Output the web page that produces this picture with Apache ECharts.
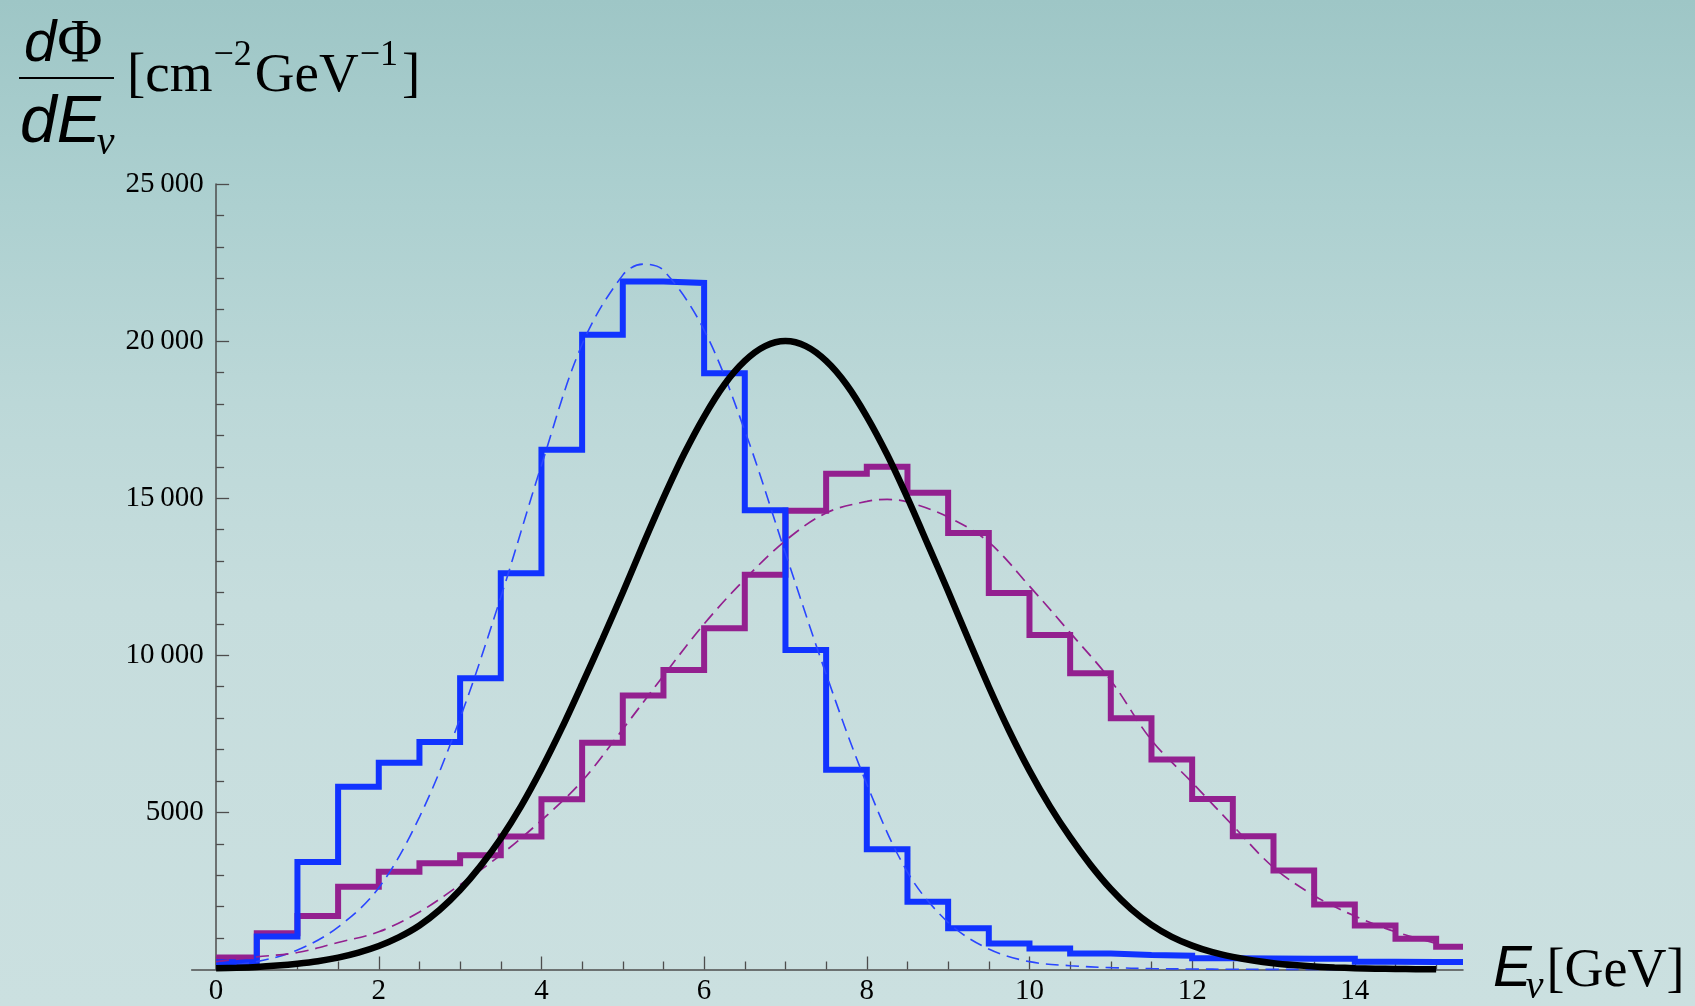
<!DOCTYPE html>
<html>
<head>
<meta charset="utf-8">
<script src="https://cdn.jsdelivr.net/npm/echarts@6/dist/echarts.min.js"></script>
<style>
html,body{margin:0;padding:0;}
body{width:1695px;height:1006px;overflow:hidden;
  background:linear-gradient(to bottom,#9ec6c6 0%,#abcfcf 18%,#bcd8d8 40%,#c6dddd 60%,#cbe0e0 100%);}
#c{width:1695px;height:1006px;}
</style>
</head>
<body>
<div id="c"></div>
<script>
// ---------------- data ----------------
const binStart = [0,0.5,1,1.5,2,2.5,3,3.5,4,4.5,5,5.5,6,6.5,7,7.5,8,8.5,9,9.5,10,10.5,11,11.5,12,12.5,13,13.5,14,14.5,15];
const binEnd = 15.33;
const blueHist = [230,1050,3420,5820,6580,7240,9270,12610,16540,20200,21900,21850,18980,14620,10170,6360,3830,2160,1310,830,670,510,460,440,360,350,345,340,245,240,235];
const magentaHist = [380,1150,1700,2630,3110,3380,3640,4230,5420,7220,8720,9530,10860,12560,14600,15780,16000,15170,13890,11980,10650,9430,8000,6680,5430,4240,3150,2070,1400,980,725];

const blackX = [0,0.25,0.5,0.75,1,1.25,1.5,1.75,2,2.25,2.5,2.75,3,3.25,3.5,3.75,4,4.25,4.5,4.75,5,5.25,5.5,5.75,6,6.25,6.5,6.75,7,7.25,7.5,7.75,8,8.25,8.5,8.75,9,9.25,9.5,9.75,10,10.25,10.5,10.75,11,11.25,11.5,11.75,12,12.25,12.5,12.75,13,13.25,13.5,13.75,14,14.25,14.5,14.75,15];
const blackCurve = [40,55,80,125,185,265,380,540,750,1030,1400,1900,2530,3290,4170,5200,6380,7680,9080,10520,12000,13530,15010,16390,17600,18620,19370,19840,20000,19840,19370,18620,17600,16390,15010,13530,12040,10500,9000,7600,6330,5200,4210,3330,2560,1920,1420,1040,760,550,400,285,200,140,95,65,42,27,17,10,6];

const blueFitX = [0,0.5,1,1.5,2,2.5,3,3.5,4,4.5,5,5.25,5.5,6,6.5,7,7.5,8,8.5,9,9.5,10,10.5,11,11.5,12,12.5,13,13.5,14,14.5,15];
const blueFit = [90,250,620,1350,2600,4850,8000,11850,16050,19900,22100,22450,22250,20350,17150,13250,9400,5900,3100,1500,650,250,120,60,30,15,8,4,2,1,0,0];

const magentaFitX = [0,0.5,1,1.5,2,2.5,3,3.5,4,4.5,5,5.5,6,6.5,7,7.5,8,8.25,8.5,9,9.5,10,10.5,11,11.5,12,12.5,13,13.5,14,14.5,15];
const magentaFit = [250,400,540,860,1200,1830,2700,3650,4750,6000,7650,9350,11000,12420,13650,14530,14900,14960,14880,14400,13600,12200,10720,9200,7300,5950,4580,3250,2350,1700,1200,830];

const xMajorTicks = [0,2,4,6,8,10,12,14];
const xTickLabels = ['0','2','4','6','8','10','12','14'];
const xMinorTicks = [0.5,1,1.5,2.5,3,3.5,4.5,5,5.5,6.5,7,7.5,8.5,9,9.5,10.5,11,11.5,12.5,13,13.5,14.5,15];
const yTickValues = [5000,10000,15000,20000,25000];
const yTickLabels = ['5000','10\u2009000','15\u2009000','20\u2009000','25\u2009000'];

// ---------------- build ----------------
function histPairs(vals){
  const d = binStart.map((x,i)=>[x, vals[i]]);
  d.push([binEnd, vals[vals.length-1]]);
  return d;
}
function pairs(xs, ys){ return xs.map((x,i)=>[x, ys[i]]); }

const AX = '#4d4d4d';
const BLUE = '#1133ff';
const MAG = '#93208f';
const SERIF = '"Liberation Serif","Times New Roman",serif';
const SANS = '"Liberation Sans",Arial,sans-serif';

const mctx = document.createElement('canvas').getContext('2d');
function tw(t,f){ mctx.font=f; return mctx.measureText(t).width; }
function midOff(f){ mctx.font=f; mctx.textBaseline='middle'; const m=mctx.measureText('H'); mctx.textBaseline='alphabetic'; return m.actualBoundingBoxDescent; }
function run(x, base, parts){
  const out=[];
  for(const p of parts){
    const xx = x + (p.dx||0);
    out.push({type:'text', silent:true, x:xx, y:base+(p.dy||0)-midOff(p.font),
      style:{text:p.t, font:p.font, fill:'#000', textAlign:'left', textVerticalAlign:'middle'}});
    x = xx + tw(p.t,p.font);
  }
  return out;
}
const fNumD = 'italic 58px '+SANS;
const fNumPhi = '62px '+SERIF;
const fDen = 'italic 66px '+SANS;
const fNu = 'italic 40px '+SERIF;
const fUnit = '55px '+SERIF;
const fSup = '36px '+SERIF;

let graphics = [];
graphics = graphics.concat(run(24, 61, [{t:'d',font:fNumD},{t:'\u03A6',font:fNumPhi,dx:1}]));
graphics.push({type:'line', silent:true, shape:{x1:19,y1:78,x2:114,y2:78}, style:{stroke:'#000',lineWidth:2}});
graphics = graphics.concat(run(20, 142, [{t:'d',font:fDen},{t:'E',font:fDen},{t:'\u03BD',font:fNu,dy:12,dx:-4}]));
graphics = graphics.concat(run(127, 91, [
  {t:'[cm',font:fUnit},{t:'\u22122',font:fSup,dy:-26,dx:1},{t:'GeV',font:fUnit,dx:3},{t:'\u22121',font:fSup,dy:-26,dx:1},{t:']',font:fUnit,dx:4}
]));
graphics = graphics.concat(run(1493, 986, [
  {t:'E',font:'italic 58px '+SANS},{t:'\u03BD',font:'italic 40px '+SERIF,dy:12,dx:-6},{t:'[GeV]',font:'54px '+SERIF,dx:3}
]));

const chart = echarts.init(document.getElementById('c'), null, {renderer:'canvas'});
chart.setOption({
  animation:false,
  backgroundColor:'transparent',
  grid:{left:191.7, right:232, top:184, bottom:36.5, containLabel:false},
  xAxis:[{
    type:'value', min:-0.3, max:binEnd, position:'bottom',
    axisLine:{show:true, onZero:false, lineStyle:{color:AX, width:1.5}},
    axisTick:{show:true, inside:true, length:13, customValues:xMajorTicks, lineStyle:{color:AX,width:1.3}},
    minorTick:{show:false},
    axisLabel:{show:true, customValues:xMajorTicks, margin:7, color:'#000', fontFamily:SERIF, fontSize:29,
      formatter:(v)=>{const i=xMajorTicks.indexOf(v); return i>=0?xTickLabels[i]:'';}},
    splitLine:{show:false}
  },{
    type:'value', min:-0.3, max:binEnd, position:'bottom',
    axisLine:{show:false, onZero:false},
    axisTick:{show:true, inside:true, length:8, customValues:xMinorTicks, lineStyle:{color:AX,width:1.3}},
    axisLabel:{show:false},
    splitLine:{show:false}
  }],
  yAxis:{
    type:'value', min:0, max:25000, interval:5000,
    axisLine:{show:true, onZero:true, onZeroAxisIndex:0, lineStyle:{color:AX, width:1.5}},
    axisTick:{show:true, inside:true, length:13, lineStyle:{color:AX,width:1.3}},
    minorTick:{show:true, splitNumber:5, length:8, lineStyle:{color:AX,width:1.3}},
    axisLabel:{show:true, customValues:yTickValues, margin:-12, color:'#000', fontFamily:SERIF, fontSize:29,
      formatter:(v)=>{const i=yTickValues.indexOf(v); return i>=0?yTickLabels[i]:'';}},
    splitLine:{show:false}
  },
  graphic:graphics,
  series:[
    {type:'line', name:'magenta hist', step:'end', data:histPairs(magentaHist), symbol:'none', clip:false, z:2,
      lineStyle:{color:MAG, width:6, join:'miter', cap:'butt'}},
    {type:'line', name:'blue hist', step:'end', data:histPairs(blueHist), symbol:'none', clip:false, z:3,
      lineStyle:{color:BLUE, width:6, join:'miter', cap:'butt'}},
    {type:'line', name:'blue fit', data:pairs(blueFitX, blueFit), smooth:0.35, symbol:'none', clip:false, z:4,
      lineStyle:{color:'#2a46ff', width:1.6, type:[13,7]}},
    {type:'line', name:'magenta fit', data:pairs(magentaFitX, magentaFit), smooth:0.35, symbol:'none', clip:false, z:4,
      lineStyle:{color:MAG, width:1.7, type:[13,7]}},
    {type:'line', name:'black', data:pairs(blackX, blackCurve), smooth:0.3, symbol:'none', clip:false, z:5,
      lineStyle:{color:'#000', width:6.5}}
  ]
});
</script>
</body>
</html>
